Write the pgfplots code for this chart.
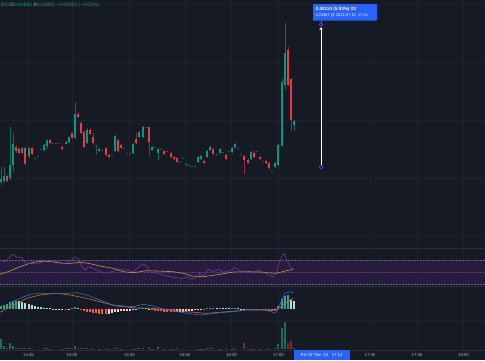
\documentclass[border=0pt]{standalone}
\usepackage{pgfplots}
\pgfplotsset{compat=1.18}
\usepackage{pgfplotstable}
\usepackage{fontspec}
\setmainfont{Liberation Sans}
\usetikzlibrary{arrows.meta}
\definecolor{bg}{HTML}{161A25}
\definecolor{gridc}{HTML}{1E222D}
\definecolor{sepc}{HTML}{2A2E39}
\definecolor{upc}{HTML}{089981}
\definecolor{dnc}{HTML}{F23645}
\definecolor{upw}{HTML}{16665A}
\definecolor{dnw}{HTML}{8A2A34}
\definecolor{dojic}{HTML}{1A5F55}
\definecolor{txt}{HTML}{B2B5BE}
\definecolor{tvblue}{HTML}{2962FF}
\definecolor{rsiband}{HTML}{281B40}
\definecolor{rsilev}{HTML}{6A5F80}
\definecolor{rsiline}{HTML}{8A35A8}
\definecolor{rsima}{HTML}{BFA040}
\definecolor{macdc}{HTML}{2273D0}
\definecolor{sigc}{HTML}{D8681C}
\definecolor{hteal}{HTML}{26A69A}
\definecolor{hlight}{HTML}{B2DFDB}
\definecolor{hred}{HTML}{FF5252}
\definecolor{hpink}{HTML}{FFCDD2}
\definecolor{vteal}{HTML}{1C6960}
\definecolor{vred}{HTML}{7C2C35}

\pgfplotstableread{
x a b c d
1 179 182 167 185
4 176 181 167 183
10 165 178 127 180
13 144 165 133 172
22 148 153 147 154
29 148 156 147 158
44 145 150 144 151
47 140 146 140 149
66 142 143.5 141 144
69 137 142 136 143
75 114 138 102 139
87 130 143 128 144
99 149 151 148 152
115 136 151 135 152
133 144 153 143 154
139 132 137 131 138
143 127 137 126 138
152 147 150 146 151
158 149 153 148 160
198 157 162 156 163
201 156 159 155 160
207 151 157 150 158
210 147 150 146 151
220 149 153 148 154
232 148 152 147 153
235 144 147 143 148
251 152 159 151 160
275 163 167 162 168
278 145 165 144 166
282 82 146 79 146
285 53 85 23 90
294 121 125 120 131
}\greencandles

\pgfplotstableread{
x a b c d
7 176 181 175 182
16 147 151 145 153
19 149 153 148 154
25 148 164 147 165
32 148 154 147 155
50 140 143 139 144
62 147 149 146 150
72 133 138 132 139
78 114 117 112 118
81 123 133 121 134
84 132 147 130 148
90 130 134 128 135
93 137 143 133 144
106 148 155 147 156
109 155 157 154 158
118 140 151 139 152
121 145 148 144 149
136 139 143 133 144
149 127 142 127 156
164 151 154 150 155
171 153 157 152 158
174 157 159 156 160
177 158 162 157 163
204 161 163 160 164
213 149 154 148 155
226 155 159 154 160
244 156 160 155 174
248 160 163 159 164
254 153 157 151 158
260 157 159 156 160
266 161 163 160 164
269 163 168 162 169
288 50 85 47 86
291 79 120 78 131
}\redcandles

\pgfplotstableread{
x a b c d
35 157.5 158.5 157.5 158.5
38 155.5 156.5 155.5 156.5
41 148.5 149.5 148.5 149.5
53 142.5 143.5 142.5 143.5
56 142.5 143.5 142.5 143.5
59 142.5 143.5 142.5 143.5
96 144.5 145.5 144.5 155
102 149.5 150.5 149.5 150.5
112 154.5 155.5 154.5 155.5
124 147.5 148.5 147.5 148.5
127 152.5 153.5 152.5 153.5
130 152.5 153.5 152.5 153.5
146 126.5 127.5 126.5 127.5
155 146.5 147.5 146.5 147.5
161 148.5 149.5 148.5 149.5
167 150.5 151.5 150.5 151.5
180 160.5 161.5 160.5 161.5
183 157.5 158.5 157.5 158.5
186 163.5 164.5 163 166
189 164.5 165.5 164.5 165.5
192 165.5 166.5 165.5 166.5
195 165.5 166.5 165.5 166.5
217 153.5 154.5 153.5 154.5
223 151.5 152.5 151.5 152.5
229 150.5 151.5 150.5 151.5
238 147.5 148.5 147.5 148.5
241 153.5 154.5 153.5 154.5
257 150.5 151.5 150.5 151.5
263 160.5 161.5 160.5 161.5
272 170.5 171.5 170.5 171.5
}\dojis

\pgfplotstableread{
x v
1 306
4 305
7 304
10 302
13 301
16 300.5
72 308
75 307
139 308
143 307.5
204 308.5
207 308
210 307.5
213 307.5
220 307.5
232 308
235 307.5
278 306
282 299
285 296
288 295
}\hteal
\pgfplotstableread{
x v
19 301
22 302
25 303
29 304
32 305
35 306
38 306.5
41 307
44 307.5
47 308
50 308
53 308.5
56 308.5
78 308
146 308
149 308.5
217 307.5
223 307.5
226 308
229 308
238 308
241 308.5
244 308.8
291 300
294 301
}\hlight
\pgfplotstableread{
x v
66 310
81 310
84 311
87 311.5
90 312
93 312.5
96 313
99 313.5
102 314
106 314
152 310
155 310.5
158 311
161 311
164 311.5
167 311.5
171 312
174 312
248 310
254 310
260 310
263 310
266 310.5
269 311
272 311
}\hred
\pgfplotstableread{
x v
59 309.7
62 310
69 310
109 313.5
112 313
115 312
118 311.5
121 311
124 311
127 310.5
130 310.5
133 310
136 310
177 312
180 311.5
183 311.5
186 311
189 311
192 310.5
195 310
198 309.7
201 309.7
251 310
257 310
275 310
}\hpink

\pgfplotstableread{
x v
1 339
4 346
10 343
13 346
22 348.3
29 348.3
44 348
47 348
66 348.3
69 347.7
75 346
87 348.3
99 348.5
115 348.3
133 348.5
139 348.3
143 348
152 348.5
158 346.7
198 348.5
201 348.5
207 348.3
210 348.3
220 348.5
232 348.5
235 348.3
251 348.5
275 348
278 344
282 328
285 321.7
294 347.7
}\volup
\pgfplotstableread{
x v
7 348
16 348.3
19 348.3
25 347.8
32 348.3
50 348.5
62 348.5
72 348.3
78 348.3
81 348.3
84 348
90 348.5
93 348.3
106 348.3
109 348.5
118 348.3
121 348.5
136 348.3
149 347.3
164 348.5
171 348.5
174 348.5
177 348.3
204 348.5
213 348.3
226 348.3
244 343
248 348.3
254 348.5
260 348.5
266 348.5
269 348
288 342.7
291 341
}\voldn

\pgfplotsset{
  seg/.style 2 args={only marks, mark size=0pt, mark options={draw=none, fill=none},
    error bars/.cd, y dir=plus, y explicit, error mark=none,
    error bar style={line width=#1, draw=#2, line cap=butt}},
}
\tikzset{tlab/.style={inner sep=0pt, text=txt, font=\fontsize{4.2}{5}\selectfont}}

\begin{document}
\begin{tikzpicture}
\begin{axis}[
  width=485pt, height=360pt, scale only axis,
  xmin=0, xmax=485, ymin=0, ymax=360, y dir=reverse,
  axis lines=none, ticks=none, clip=true,
]
% background
\addplot[fill=bg, draw=none] coordinates {(0,0) (485,0) (485,360) (0,360)} -- cycle;
% RSI band
\addplot[fill=rsiband, draw=none] coordinates {(0,260) (485,260) (485,284) (0,284)} -- cycle;
% vertical grid
\pgfplotsinvokeforeach{28.5,72,129.5,185,231.5,278.5,370,417,463.5}{
  \addplot[gridc, line width=0.7pt] coordinates {(#1,0) (#1,349.5)};
}
% horizontal grid
\pgfplotsinvokeforeach{4,62,120,178,236,320}{
  \addplot[gridc, line width=0.7pt] coordinates {(0,#1) (485,#1)};
}
% separators
\addplot[sepc, line width=0.8pt] coordinates {(0,248.5) (485,248.5)};
\addplot[sepc, line width=0.8pt] coordinates {(0,286.5) (485,286.5)};
\addplot[sepc, line width=0.6pt] coordinates {(0,349.8) (485,349.8)};
% RSI levels
\addplot[rsilev, line width=0.5pt, dash pattern=on 0.6pt off 0.9pt] coordinates {(0,260) (485,260)};
\addplot[rsilev, line width=0.5pt, dash pattern=on 0.6pt off 0.9pt] coordinates {(0,284) (485,284)};
\addplot[rsilev!60!rsiband, line width=0.4pt, dash pattern=on 1.5pt off 1.5pt] coordinates {(0,272) (485,272)};

% candles: wicks
\addplot[seg={0.9pt}{upw}] table[x=x, y=c, y error expr={\thisrow{d}-\thisrow{c}}] {\greencandles};
\addplot[seg={0.9pt}{dnw}] table[x=x, y=c, y error expr={\thisrow{d}-\thisrow{c}}] {\redcandles};
\addplot[seg={0.9pt}{dojic}] table[x=x, y=c, y error expr={\thisrow{d}-\thisrow{c}}] {\dojis};
% candles: bodies
\addplot[seg={2.3pt}{upc}] table[x=x, y=a, y error expr={\thisrow{b}-\thisrow{a}}] {\greencandles};
\addplot[seg={2.3pt}{dnc}] table[x=x, y=a, y error expr={\thisrow{b}-\thisrow{a}}] {\redcandles};
\addplot[seg={2.3pt}{dojic}] table[x=x, y=a, y error expr={\thisrow{b}-\thisrow{a}}] {\dojis};

% RSI
\addplot[rsima, line width=0.6pt] coordinates {
(0,274.3)(10,271)(20,266.7)(31.7,262.7)(43.3,261)(53.3,262)(63.3,263.3)(71.7,263.3)(80,262.3)(88.3,263.3)(100,266)(113.3,268.3)(123.3,271.7)(133.3,272.7)(146.7,270.7)(156.7,271)(173.3,271.7)(183.3,273.3)(191.7,276)(203.3,276.7)(220,274.3)(233.3,272)(246.7,271.7)(260,272)(266.7,272.7)(276.7,273.3)(285,271)(293.3,269.3)};
\addplot[rsiline, line width=0.5pt] coordinates {
(0,260.7)(5,261.7)(8.3,258.3)(12.7,254.3)(16.7,257.3)(21.7,257.3)(25,262.7)(30,263.3)(36.7,264)(43.3,261.7)(50,260.7)(56.7,261.7)(61.7,264)(66.7,262.7)(71.7,260)(75,256.7)(78.3,258.3)(81.7,266.7)(85,270)(88.3,266.7)(93.3,268.3)(100,271.7)(106.7,273.3)(111.7,271.7)(115,270.7)(120,269.3)(126.7,270)(133.3,271.7)(138.3,267.3)(143.3,264)(146.7,266)(150,271.7)(156.7,273.3)(163.3,275)(170,276.7)(175,277.7)(181.7,278.3)(186.7,277.3)(191.7,279.3)(196.7,276.7)(200,273.3)(203.3,276)(208.3,269.3)(213.3,271.7)(218.3,269.3)(223.3,272.3)(230,270.7)(235,267.7)(240,270.7)(246.7,271.7)(253.3,273.3)(258.3,270)(263.3,272.3)(268.3,274.3)(272.7,277.3)(276.7,271.7)(280,260)(284,253.3)(286.7,260)(290,266.7)(293.3,269.3)};

% MACD histogram
\addplot[seg={2.6pt}{hteal}] table[x=x, y expr={min(\thisrow{v},309)}, y error expr={abs(\thisrow{v}-309)}] {\hteal};
\addplot[seg={2.6pt}{hlight}] table[x=x, y expr={min(\thisrow{v},309)}, y error expr={abs(\thisrow{v}-309)}] {\hlight};
\addplot[seg={2.6pt}{hred}] table[x=x, y expr={min(\thisrow{v},309)}, y error expr={abs(\thisrow{v}-309)}] {\hred};
\addplot[seg={2.6pt}{hpink}] table[x=x, y expr={min(\thisrow{v},309)}, y error expr={abs(\thisrow{v}-309)}] {\hpink};
% MACD + signal
\addplot[sigc, line width=0.6pt] coordinates {
(0,312.3)(13.3,305)(26.7,298.3)(40,295)(56.7,293.3)(70,295)(86.7,298.3)(100,301.7)(116.7,306)(133.3,307.7)(150,308.3)(166.7,309.3)(186.7,311.7)(206.7,313.3)(226.7,311.7)(246.7,310)(266.7,310)(276.7,310)(283.3,305)(290,300)(293.3,298.3)};
\addplot[macdc, line width=0.6pt] coordinates {
(10,304)(15,300.7)(23,297)(30,294.3)(40,293.3)(55,293.3)(67,293.3)(77,292.7)(87,295)(100,300)(113,305)(133,306.7)(143,304.3)(153,306)(167,310)(187,313.3)(200,315)(220,312.7)(233,311.7)(250,309.3)(267,310)(275,313.3)(278,309)(282,300)(285,293.3)(290,291.7)(293.3,292.7)};

% Volume
\addplot[seg={2.6pt}{vteal}] table[x=x, y=v, y error expr={349.3-\thisrow{v}}] {\volup};
\addplot[seg={2.6pt}{vred}] table[x=x, y=v, y error expr={349.3-\thisrow{v}}] {\voldn};

% measurement
\addplot[white, line width=0.7pt, -{Stealth[length=3.2pt,width=3.2pt]}] coordinates {(321,165) (321,27)};
\addplot[tvblue, line width=0.6pt] coordinates {(321,20) (321,23)};
\addplot[only marks, mark=*, mark size=1.8pt, mark options={draw=tvblue, fill=bg, line width=0.6pt}] coordinates {(321,24.5) (321,167)};

% header text
\node[anchor=west, inner sep=0pt, font=\fontsize{5}{6}\selectfont] at (axis cs:0.5,5.5)
  {\textcolor{upc}{893}\ \textcolor{txt}{D}\textcolor{upc}{0.01885}\ \textcolor{txt}{K}\textcolor{upc}{0.01893}\ \textcolor{upc}{−0.00001 (−0.05\%)}};
% measurement box
\fill[tvblue, rounded corners=0.6pt] (axis cs:313,4) rectangle (axis cs:377,20.5);
\node[anchor=west, inner sep=0pt, text=white, font=\bfseries\fontsize{4.6}{5}\selectfont] at (axis cs:315.5,9.3) {0.00110 (5.93\%) 33};
\node[anchor=west, inner sep=0pt, text=white, font=\fontsize{3.9}{4.5}\selectfont] at (axis cs:315.5,15.6) {0.01967 @ 2023-07-10\ \ 17:14};

% time axis
\fill[tvblue] (axis cs:293.5,350) rectangle (axis cs:349.5,360);
\node[inner sep=0pt, text=white, font=\fontsize{4.2}{5}\selectfont] at (axis cs:321.5,355.2) {Pzt 10 Tem '23\ \ \ 17:14};
\node[tlab] at (axis cs:28.5,355.2) {14:45};
\node[tlab] at (axis cs:72,355.2) {15:00};
\node[tlab] at (axis cs:129.5,355.2) {15:30};
\node[tlab] at (axis cs:185,355.2) {16:00};
\node[tlab] at (axis cs:231.5,355.2) {16:30};
\node[tlab] at (axis cs:278.5,355.2) {17:00};
\node[tlab] at (axis cs:370,355.2) {17:30};
\node[tlab] at (axis cs:417,355.2) {17:45};
\node[tlab] at (axis cs:463.5,355.2) {18:00};
\end{axis}
\end{tikzpicture}
\end{document}
